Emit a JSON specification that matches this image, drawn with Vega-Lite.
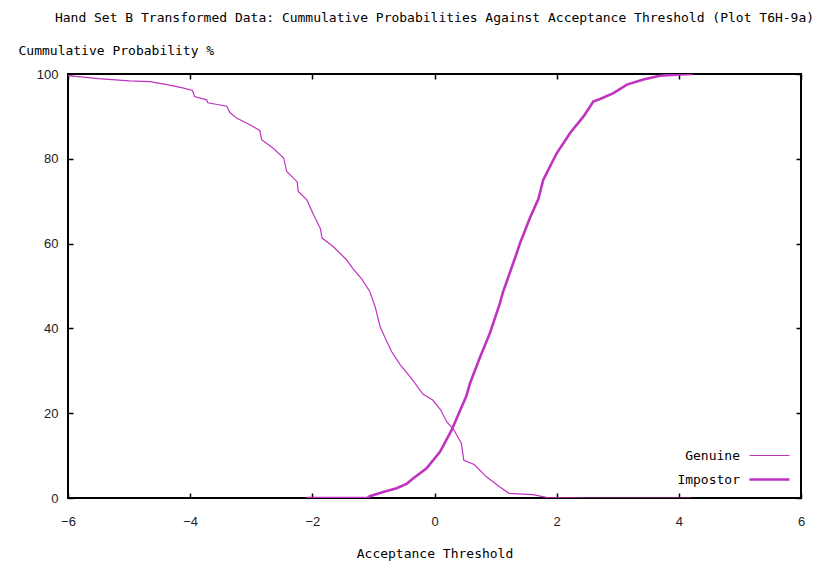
{
  "$schema": "https://vega.github.io/schema/vega-lite/v6.json",
  "width": 733,
  "height": 424,
  "autosize": "none",
  "padding": {"left": 68, "top": 74, "right": 24, "bottom": 66},
  "background": "white",
  "title": {
    "text": "Hand Set B Transformed Data: Cummulative Probabilities Against Acceptance Threshold (Plot T6H-9a)",
    "frame": "group",
    "anchor": "middle",
    "font": "DejaVu Sans Mono",
    "fontSize": 13,
    "fontWeight": "normal",
    "color": "#000000",
    "offset": 19
  },
  "config": {
    "view": {"stroke": "#000000", "strokeWidth": 2},
    "axis": {
      "grid": false,
      "domain": false,
      "tickColor": "#000000",
      "tickWidth": 1.5,
      "tickSize": -5,
      "labelFont": "Liberation Sans",
      "labelFontSize": 13,
      "labelColor": "#222222",
      "labelFlush": false,
      "titleFont": "DejaVu Sans Mono",
      "titleFontSize": 13,
      "titleFontWeight": "normal",
      "titleColor": "#000000"
    }
  },
  "data": {
    "values": [
      {"series": "Genuine", "t": -6.0, "p": 99.6},
      {"series": "Genuine", "t": -5.5, "p": 98.9},
      {"series": "Genuine", "t": -5.0, "p": 98.4},
      {"series": "Genuine", "t": -4.66, "p": 98.2},
      {"series": "Genuine", "t": -4.38, "p": 97.5},
      {"series": "Genuine", "t": -4.14, "p": 96.8},
      {"series": "Genuine", "t": -3.96, "p": 96.1},
      {"series": "Genuine", "t": -3.93, "p": 94.7},
      {"series": "Genuine", "t": -3.73, "p": 93.9},
      {"series": "Genuine", "t": -3.71, "p": 93.2},
      {"series": "Genuine", "t": -3.4, "p": 92.4},
      {"series": "Genuine", "t": -3.35, "p": 90.9},
      {"series": "Genuine", "t": -3.24, "p": 89.6},
      {"series": "Genuine", "t": -3.07, "p": 88.4},
      {"series": "Genuine", "t": -2.86, "p": 86.7},
      {"series": "Genuine", "t": -2.83, "p": 84.5},
      {"series": "Genuine", "t": -2.64, "p": 82.5},
      {"series": "Genuine", "t": -2.47, "p": 80.2},
      {"series": "Genuine", "t": -2.42, "p": 77.0},
      {"series": "Genuine", "t": -2.25, "p": 74.6},
      {"series": "Genuine", "t": -2.23, "p": 72.3},
      {"series": "Genuine", "t": -2.09, "p": 70.3},
      {"series": "Genuine", "t": -1.98, "p": 66.8},
      {"series": "Genuine", "t": -1.87, "p": 63.6},
      {"series": "Genuine", "t": -1.84, "p": 61.3},
      {"series": "Genuine", "t": -1.66, "p": 59.3},
      {"series": "Genuine", "t": -1.44, "p": 56.2},
      {"series": "Genuine", "t": -1.33, "p": 54.0},
      {"series": "Genuine", "t": -1.19, "p": 51.6},
      {"series": "Genuine", "t": -1.06, "p": 48.7},
      {"series": "Genuine", "t": -0.97, "p": 45.0},
      {"series": "Genuine", "t": -0.89, "p": 40.4},
      {"series": "Genuine", "t": -0.8, "p": 37.5},
      {"series": "Genuine", "t": -0.7, "p": 34.5},
      {"series": "Genuine", "t": -0.56, "p": 31.4},
      {"series": "Genuine", "t": -0.4, "p": 28.6},
      {"series": "Genuine", "t": -0.19, "p": 24.5},
      {"series": "Genuine", "t": -0.03, "p": 23.1},
      {"series": "Genuine", "t": 0.1, "p": 20.8},
      {"series": "Genuine", "t": 0.2, "p": 18.0},
      {"series": "Genuine", "t": 0.31, "p": 16.2},
      {"series": "Genuine", "t": 0.44, "p": 12.9},
      {"series": "Genuine", "t": 0.48, "p": 8.9},
      {"series": "Genuine", "t": 0.65, "p": 7.9},
      {"series": "Genuine", "t": 0.85, "p": 5.0},
      {"series": "Genuine", "t": 1.07, "p": 2.6},
      {"series": "Genuine", "t": 1.22, "p": 1.1},
      {"series": "Genuine", "t": 1.61, "p": 0.8},
      {"series": "Genuine", "t": 1.85, "p": 0.1},
      {"series": "Genuine", "t": 2.5, "p": 0.0},
      {"series": "Genuine", "t": 4.2, "p": 0.0},
      {"series": "Impostor", "t": -2.1, "p": 0.0},
      {"series": "Impostor", "t": -1.1, "p": 0.0},
      {"series": "Impostor", "t": -1.06, "p": 0.4},
      {"series": "Impostor", "t": -0.84, "p": 1.4},
      {"series": "Impostor", "t": -0.62, "p": 2.3},
      {"series": "Impostor", "t": -0.45, "p": 3.4},
      {"series": "Impostor", "t": -0.35, "p": 4.6},
      {"series": "Impostor", "t": -0.13, "p": 7.0},
      {"series": "Impostor", "t": 0.09, "p": 10.9},
      {"series": "Impostor", "t": 0.28, "p": 16.0},
      {"series": "Impostor", "t": 0.42, "p": 20.7},
      {"series": "Impostor", "t": 0.52, "p": 24.0},
      {"series": "Impostor", "t": 0.58, "p": 27.0},
      {"series": "Impostor", "t": 0.74, "p": 33.0},
      {"series": "Impostor", "t": 0.91, "p": 39.0},
      {"series": "Impostor", "t": 1.07, "p": 45.9},
      {"series": "Impostor", "t": 1.12, "p": 48.5},
      {"series": "Impostor", "t": 1.23, "p": 53.0},
      {"series": "Impostor", "t": 1.34, "p": 57.5},
      {"series": "Impostor", "t": 1.4, "p": 60.1},
      {"series": "Impostor", "t": 1.56, "p": 66.0},
      {"series": "Impostor", "t": 1.7, "p": 70.5},
      {"series": "Impostor", "t": 1.78, "p": 75.0},
      {"series": "Impostor", "t": 2.0, "p": 81.3},
      {"series": "Impostor", "t": 2.22, "p": 86.1},
      {"series": "Impostor", "t": 2.44, "p": 90.0},
      {"series": "Impostor", "t": 2.6, "p": 93.5},
      {"series": "Impostor", "t": 2.71, "p": 94.1},
      {"series": "Impostor", "t": 2.93, "p": 95.5},
      {"series": "Impostor", "t": 3.15, "p": 97.5},
      {"series": "Impostor", "t": 3.42, "p": 98.7},
      {"series": "Impostor", "t": 3.69, "p": 99.6},
      {"series": "Impostor", "t": 4.02, "p": 99.9},
      {"series": "Impostor", "t": 4.23, "p": 100.0}
    ]
  },
  "layer": [
    {
      "mark": {"type": "line", "color": "#c033c0", "clip": true},
      "encoding": {
        "x": {
          "field": "t", "type": "quantitative",
          "scale": {"domain": [-6, 6], "nice": false, "zero": false},
          "axis": {
            "orient": "bottom", "values": [-6, -4, -2, 0, 2, 4, 6],
            "labelPadding": 22,
            "title": "Acceptance Threshold",
            "titleY": 55, "titleBaseline": "middle"
          }
        },
        "y": {
          "field": "p", "type": "quantitative",
          "scale": {"domain": [0, 100], "nice": false},
          "axis": {
            "orient": "left", "values": [0, 20, 40, 60, 80, 100],
            "labelPadding": 15,
            "title": "Cummulative Probability %",
            "titleAngle": 0, "titleAlign": "left", "titleBaseline": "middle",
            "titleX": -50, "titleY": -24
          }
        },
        "detail": {"field": "series"},
        "strokeWidth": {
          "field": "series", "type": "nominal",
          "scale": {"domain": ["Genuine", "Impostor"], "range": [1.2, 2.6]},
          "legend": {
            "title": null,
            "orient": "none",
            "legendX": 695,
            "legendY": 375,
            "direction": "vertical",
            "symbolType": "M-4,0H4",
            "symbolStrokeColor": "#c033c0",
            "symbolFillColor": "transparent",
            "symbolSize": 100,
            "rowPadding": 10,
            "labelAlign": "right",
            "labelOffset": -36,
            "labelFont": "DejaVu Sans Mono",
            "labelFontSize": 13,
            "labelColor": "#000000"
          }
        }
      }
    },
    {
      "mark": {"type": "line", "opacity": 0},
      "encoding": {
        "x": {
          "field": "t", "type": "quantitative",
          "scale": {"domain": [-6, 6], "nice": false, "zero": false},
          "axis": {"orient": "top", "values": [-6, -4, -2, 0, 2, 4, 6], "labels": false, "title": null}
        },
        "y": {
          "field": "p", "type": "quantitative",
          "scale": {"domain": [0, 100], "nice": false},
          "axis": {"orient": "right", "values": [0, 20, 40, 60, 80, 100], "labels": false, "title": null}
        },
        "detail": {"field": "series"}
      }
    }
  ],
  "resolve": {"axis": {"x": "independent", "y": "independent"}}
}
